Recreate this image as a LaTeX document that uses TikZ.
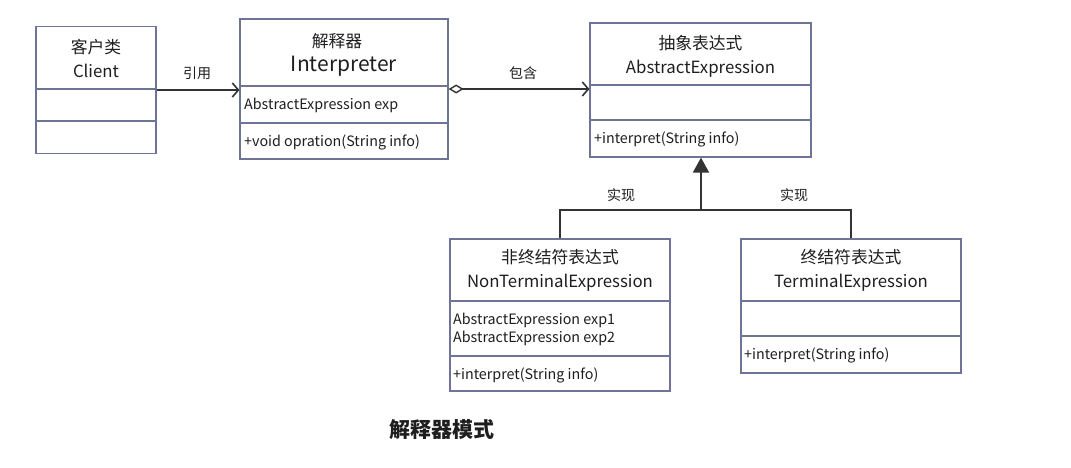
\documentclass[tikz,border=0pt]{standalone}
\usepackage{fontspec}
\setmainfont{Noto Sans CJK SC}
\usetikzlibrary{arrows.meta, positioning, calc}
\definecolor{boxline}{HTML}{6E7397}
\definecolor{wireline}{HTML}{333333}
\definecolor{textdark}{HTML}{1E1E1E}

\begin{document}
\begin{tikzpicture}[x=1pt, y=-1pt,
    classbox/.style={draw=boxline, line width=1.2pt, minimum width=#1, inner sep=0pt},
    headtext/.style={font=\fontsize{16.8}{24}\selectfont, text=textdark, align=center},
    membertext/.style={font=\fontsize{14.3}{18}\selectfont, text=textdark, anchor=west, align=left, inner sep=0pt},
    linklabel/.style={font=\fontsize{14}{16}\selectfont, text=textdark},
    wire/.style={draw=wireline, line width=1.8pt},
    assoc/.style={wire, -{Straight Barb[length=6pt, width=14pt, line width=1.6pt]}},
    aggreg/.style={wire, {Diamond[open, length=15pt, width=9pt, line width=1.4pt]}-{Straight Barb[length=6pt, width=14pt, line width=1.6pt]}},
    realize/.style={wire, -{Triangle[length=15pt, width=16pt]}}
]
\useasboundingbox (0,0) rectangle (1071,467);

% class boxes
\node[classbox=120pt, minimum height=127pt] (client) at (96,90) {};
\node[classbox=208pt, minimum height=140pt] (interp) at (344,89) {};
\node[classbox=221pt, minimum height=134pt] (abs) at (700.5,90) {};
\node[classbox=220pt, minimum height=152pt] (nonterm) at (560,315) {};
\node[classbox=220pt, minimum height=134pt] (term) at (851,306) {};

% compartment lines
\draw[boxline, line width=1.2pt] (36,89) -- (156,89) (36,121) -- (156,121);
\draw[boxline, line width=1.2pt] (240,86) -- (448,86) (240,123) -- (448,123);
\draw[boxline, line width=1.2pt] (590,85) -- (811,85) (590,120) -- (811,120);
\draw[boxline, line width=1.2pt] (450,301) -- (670,301) (450,356) -- (670,356);
\draw[boxline, line width=1.2pt] (741,301) -- (961,301) (741,336) -- (961,336);

% names
\node[headtext] (clientname) at (96,58) {客户类\\Client};
\node[headtext] (interpcn) at (337,41) {解释器};
\node[font=\fontsize{21}{24}\selectfont, text=textdark] (interpname) at (344,66) {Interpreter};
\node[headtext] (absname) at (700.5,56) {抽象表达式\\AbstractExpression};
\node[headtext] (nontermname) at (560,270) {非终结符表达式\\NonTerminalExpression};
\node[headtext] (termname) at (851,270) {终结符表达式\\TerminalExpression};

% members
\node[membertext] (interpattr) at (244,105) {AbstractExpression exp};
\node[membertext] (interpop) at (244,142) {+void opration(String info)};
\node[membertext] (absop) at (594,139) {+interpret(String info)};
\node[membertext] (nontermattr) at (453,329) {AbstractExpression exp1\\AbstractExpression exp2};
\node[membertext] (nontermop) at (453,375) {+interpret(String info)};
\node[membertext] (termop) at (744,355) {+interpret(String info)};

% relations
\draw[assoc] (client.east) -- (client.east -| interp.west);
\draw[aggreg] (interp.east) -- (interp.east -| abs.west);
\coordinate (join) at (701,210);
\draw[wire] (nonterm.north) |- (join);
\draw[wire] (term.north) |- (join);
\draw[realize] (join) -- (join |- abs.south);

\node[linklabel] (uselbl) at (197,73) {引用};
\node[linklabel] (haslbl) at (523,73) {包含};
\node[linklabel] (impl1) at (621,195) {实现};
\node[linklabel] (impl2) at (794,195) {实现};

\node[font=\fontsize{21}{24}\selectfont\bfseries, text=textdark] (title) at (442,430) {解释器模式};
\end{tikzpicture}
\end{document}
